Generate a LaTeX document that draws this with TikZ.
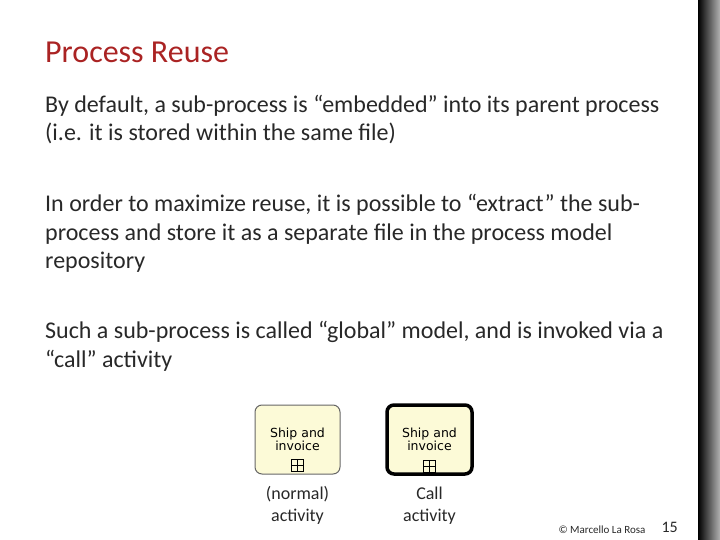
\documentclass[tikz,border=0pt]{standalone}
\usepackage{fontspec}
\setmainfont{Carlito}
\newfontfamily\bpmnfont{DejaVu Sans}
\usetikzlibrary{positioning,calc}
\definecolor{titlered}{RGB}{170,35,35}
\definecolor{bodygray}{RGB}{40,40,40}
\definecolor{taskfill}{RGB}{252,250,215}
\tikzset{
  para/.style={anchor=base west,inner sep=0pt,align=left,
    font=\fontsize{24bp}{28.5bp}\selectfont,text=bodygray},
  task/.style={draw,rounded corners=7bp,minimum width=85bp,minimum height=69bp,
    fill=taskfill,font=\bpmnfont\fontsize{12.5bp}{12bp}\selectfont,align=center},
  caption/.style={font=\fontsize{18bp}{22bp}\selectfont,align=center,text=bodygray}
}
\newcommand\plusmark[1]{%
  \draw[line width=0.8bp] ($(#1.south)+(-6bp,3bp)$) rectangle ($(#1.south)+(6bp,15bp)$);
  \draw[line width=0.8bp] ($(#1.south)+(-6bp,9bp)$) -- ($(#1.south)+(6bp,9bp)$);
  \draw[line width=0.8bp] ($(#1.south)+(0,3bp)$) -- ($(#1.south)+(0,15bp)$);}
\begin{document}
\begin{tikzpicture}[x=1bp,y=-1bp]
   \useasboundingbox (0,0) rectangle (720,540);
   % right edge strip
   \shade[left color=black,right color=gray!60] (698,0) rectangle (720,540);
   \draw[white,line width=1bp] (697,0) -- (697,540);
   % title and text (base = last line)
   \node[anchor=base west,inner sep=0pt,font=\fontsize{32bp}{34bp}\selectfont,text=titlered]
     (title) at (45,63) {Process Reuse};
   \node[para] (p1) at (45,141) {By default, a sub-process is “embedded” into its parent process\\(i.e. it is stored within the same file)};
   \node[para] (p2) at (45,269) {In order to maximize reuse, it is possible to “extract” the sub-\\process and store it as a separate file in the process model\\repository};
   \node[para] (p3) at (45,367) {Such a sub-process is called “global” model, and is invoked via a\\“call” activity};
   % activities
   \node[task,draw=gray!80!black,line width=1bp] (normal) at (297.5,439.5) {Ship and\\invoice};
   \node[task,draw=black,line width=3.5bp] (call) at (429.5,439.5) {Ship and\\invoice};
   \plusmark{normal}
   \plusmark{call}
   \node[caption,below=8bp of normal] (normalcap) {(normal)\\activity};
   \node[caption,below=8bp of call] (callcap) {Call\\activity};
   % footer
   \node[anchor=east,font=\fontsize{11bp}{13bp}\selectfont,text=bodygray] (credit) at (649,530) {© Marcello La Rosa};
   \node[anchor=west,font=\fontsize{16bp}{18bp}\selectfont,text=bodygray] (page) at (658,527) {15};
\end{tikzpicture}
\end{document}
